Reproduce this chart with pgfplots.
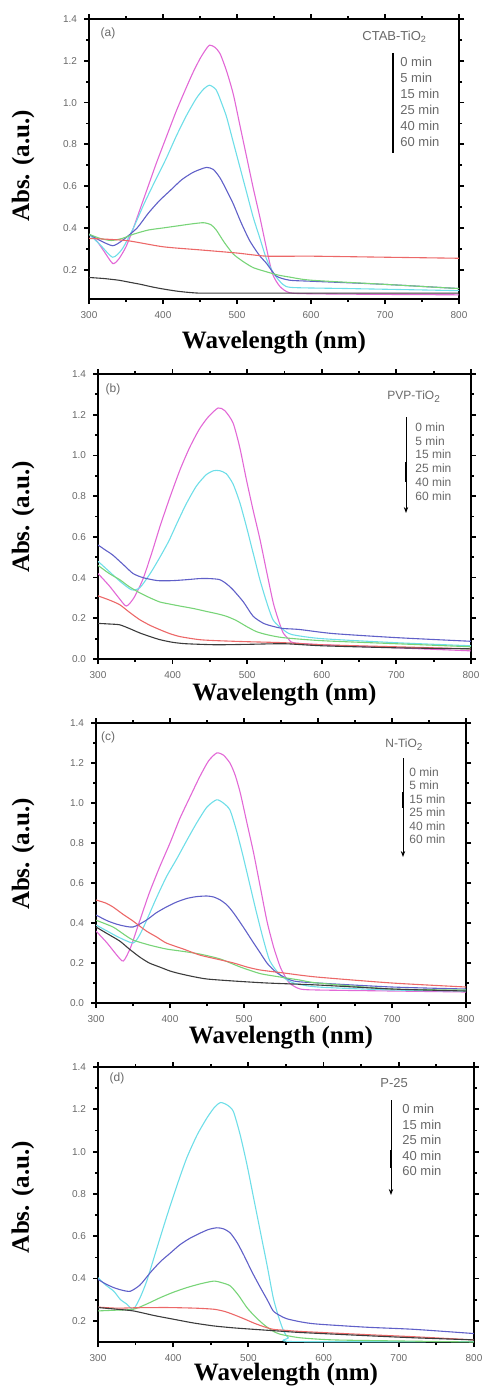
\documentclass[border=0pt]{standalone}
\usepackage{pgfplots}
\pgfplotsset{compat=1.18}
\usepackage{fontspec}
\setmainfont{Liberation Serif}
\newfontfamily\arial{Liberation Sans}
\usetikzlibrary{arrows.meta}

\definecolor{cMag}{RGB}{226,104,214}
\definecolor{cCya}{RGB}{110,222,232}
\definecolor{cBlu}{RGB}{96,96,200}
\definecolor{cGre}{RGB}{120,212,120}
\definecolor{cRed}{RGB}{236,104,104}
\definecolor{cBlk}{RGB}{60,60,60}
\definecolor{txtgray}{RGB}{105,105,105}

\pgfplotsset{
  uvpanel/.style={
    scale only axis,
    anchor=south west,
    xmin=300, xmax=800,
    xtick={300,400,...,800},
    minor x tick num=1,
    ytick={0,0.2,...,1.4},
    minor y tick num=1,
    tick align=outside,
    major tick length=2.5pt,
    minor tick length=1.5pt,
    every tick/.style={black, line width=0.9pt},
    axis line style={line width=1pt},
    tick label style={font=\arial\fontsize{5}{5}\selectfont, text=txtgray},
    /pgf/number format/assume math mode=true,
    yticklabel style={/pgf/number format/.cd, fixed, fixed zerofill, precision=1},
    xticklabel style={/pgf/number format/.cd, fixed, set thousands separator={}},
    xlabel={Wavelength (nm)},
    ylabel={Abs. (a.u.)},
    label style={font=\fontsize{12.5}{14}\selectfont\bfseries},
    xlabel style={anchor=center},
    ylabel style={anchor=center, rotate=0},
    every axis plot/.append style={line width=0.55pt, smooth, tension=0.4},
  },
}

\begin{document}
\begin{tikzpicture}
\path[use as bounding box] (0pt,0pt) rectangle (241pt,-693pt);

% (a) CTAB-TiO2
\begin{axis}[uvpanel,
  at={(44.5pt,-149.5pt)}, width=185pt, height=140pt,
  ymin=0.06, ymax=1.4, ytick={0.2,0.4,...,1.4},
  xlabel style={at={(axis description cs:0.5,-0.154)}},
  ylabel style={at={(axis description cs:-0.178,0.475)}},
]
\addplot[cMag] coordinates {(300,0.37) (310,0.34) (320,0.29) (332,0.23) (340,0.25) (350,0.31) (359,0.39) (370,0.50) (380,0.60) (391,0.71) (405,0.84) (418,0.96) (430,1.06) (440,1.14) (450,1.21) (458,1.255) (463,1.275) (470,1.265) (477,1.235) (486,1.15) (495,1.04) (504,0.89) (513,0.74) (522,0.59) (531,0.45) (540,0.30) (548,0.18) (558,0.12) (571,0.09) (600,0.085) (700,0.082) (800,0.08)};
\addplot[cCya] coordinates {(300,0.37) (315,0.32) (332,0.26) (345,0.30) (360,0.40) (375,0.52) (390,0.63) (404,0.73) (418,0.84) (432,0.94) (445,1.02) (455,1.065) (463,1.083) (472,1.06) (480,0.99) (486,0.93) (495,0.81) (504,0.69) (513,0.57) (522,0.45) (531,0.35) (540,0.25) (550,0.18) (562,0.13) (575,0.115) (650,0.11) (800,0.10)};
\addplot[cBlu] coordinates {(300,0.37) (315,0.34) (332,0.315) (345,0.34) (365,0.40) (380,0.47) (395,0.53) (410,0.58) (425,0.63) (440,0.665) (450,0.68) (459,0.69) (468,0.68) (477,0.64) (486,0.58) (495,0.515) (505,0.43) (517,0.34) (530,0.27) (540,0.23) (553,0.17) (571,0.15) (600,0.145) (700,0.13) (800,0.11)};
\addplot[cGre] coordinates {(300,0.37) (315,0.35) (330,0.34) (345,0.35) (360,0.37) (380,0.39) (400,0.40) (420,0.41) (440,0.42) (455,0.425) (465,0.415) (472,0.39) (483,0.33) (495,0.275) (508,0.24) (522,0.21) (540,0.19) (555,0.175) (571,0.165) (600,0.15) (700,0.13) (800,0.11)};
\addplot[cRed] coordinates {(300,0.35) (350,0.34) (400,0.31) (450,0.295) (500,0.28) (540,0.265) (600,0.265) (700,0.26) (800,0.255)};
\addplot[cBlk] coordinates {(300,0.163) (320,0.158) (340,0.15) (355,0.14) (370,0.13) (385,0.118) (400,0.108) (420,0.097) (440,0.09) (460,0.088) (600,0.088) (800,0.088)};
\end{axis}

% (b) PVP-TiO2
\begin{axis}[uvpanel,
  at={(49pt,-329.5pt)}, width=186.5pt, height=142.5pt,
  ymin=0, ymax=1.4,
  xlabel style={at={(axis description cs:0.5,-0.126)}},
  ylabel style={at={(axis description cs:-0.201,0.498)}},
]
\addplot[cMag] coordinates {(300,0.42) (315,0.36) (328,0.30) (338,0.26) (348,0.30) (360,0.39) (372,0.52) (383,0.65) (396,0.79) (410,0.93) (423,1.04) (436,1.13) (448,1.19) (461,1.233) (470,1.22) (481,1.16) (490,1.04) (499,0.88) (508,0.73) (517,0.59) (526,0.43) (535,0.275) (542,0.19) (548,0.13) (555,0.10) (562,0.08) (600,0.07) (700,0.055) (800,0.04)};
\addplot[cCya] coordinates {(300,0.48) (315,0.43) (330,0.38) (345,0.34) (356,0.35) (370,0.42) (383,0.50) (395,0.58) (405,0.66) (418,0.76) (432,0.85) (445,0.905) (455,0.925) (463,0.925) (472,0.91) (481,0.86) (490,0.77) (499,0.65) (508,0.52) (517,0.39) (526,0.28) (535,0.19) (548,0.145) (560,0.12) (600,0.10) (700,0.08) (800,0.065)};
\addplot[cBlu] coordinates {(300,0.56) (310,0.535) (320,0.51) (335,0.46) (347,0.42) (360,0.40) (380,0.385) (400,0.385) (420,0.39) (436,0.395) (450,0.395) (463,0.39) (472,0.37) (481,0.34) (495,0.28) (508,0.21) (522,0.175) (535,0.16) (548,0.15) (570,0.145) (615,0.125) (700,0.105) (800,0.087)};
\addplot[cGre] coordinates {(300,0.46) (315,0.42) (329,0.39) (342,0.355) (356,0.325) (370,0.30) (383,0.28) (396,0.27) (410,0.26) (428,0.248) (445,0.234) (460,0.222) (472,0.21) (485,0.19) (499,0.16) (512,0.135) (526,0.12) (548,0.105) (600,0.09) (700,0.075) (800,0.06)};
\addplot[cRed] coordinates {(300,0.31) (315,0.29) (329,0.267) (342,0.23) (356,0.193) (370,0.165) (383,0.144) (396,0.125) (410,0.11) (436,0.095) (460,0.09) (500,0.085) (550,0.08) (600,0.07) (700,0.06) (800,0.05)};
\addplot[cBlk] coordinates {(300,0.175) (315,0.172) (329,0.168) (342,0.15) (356,0.128) (370,0.11) (383,0.095) (400,0.082) (418,0.075) (458,0.07) (500,0.072) (550,0.075) (600,0.065) (700,0.055) (800,0.05)};
\end{axis}

% (c) N-TiO2
\begin{axis}[uvpanel,
  at={(48pt,-501.5pt)}, width=185pt, height=140pt,
  ymin=0, ymax=1.4,
  xlabel style={at={(axis description cs:0.5,-0.125)}},
  ylabel style={at={(axis description cs:-0.197,0.532)}},
]
\addplot[cMag] coordinates {(300,0.36) (315,0.30) (328,0.24) (337,0.21) (347,0.28) (359,0.41) (372,0.55) (386,0.68) (400,0.80) (413,0.92) (427,1.03) (440,1.13) (452,1.21) (463,1.25) (472,1.24) (481,1.20) (488,1.14) (495,1.05) (504,0.90) (513,0.75) (522,0.58) (531,0.41) (540,0.28) (549,0.18) (556,0.13) (562,0.097) (576,0.07) (600,0.065) (700,0.06) (800,0.055)};
\addplot[cCya] coordinates {(300,0.39) (315,0.36) (330,0.33) (350,0.30) (359,0.34) (368,0.41) (381,0.52) (395,0.63) (409,0.72) (423,0.815) (436,0.90) (450,0.98) (463,1.016) (472,1.00) (481,0.965) (490,0.86) (499,0.73) (508,0.59) (517,0.45) (526,0.32) (535,0.21) (549,0.14) (567,0.10) (600,0.08) (700,0.065) (800,0.06)};
\addplot[cBlu] coordinates {(300,0.44) (316,0.41) (332,0.39) (350,0.38) (368,0.414) (381,0.45) (395,0.48) (409,0.505) (423,0.523) (436,0.532) (450,0.535) (459,0.53) (468,0.515) (477,0.49) (486,0.45) (499,0.38) (513,0.30) (522,0.25) (531,0.20) (540,0.165) (549,0.14) (567,0.11) (600,0.10) (700,0.08) (800,0.07)};
\addplot[cGre] coordinates {(300,0.414) (323,0.38) (337,0.345) (350,0.315) (372,0.29) (395,0.27) (418,0.258) (440,0.245) (468,0.22) (495,0.18) (522,0.147) (549,0.13) (575,0.115) (600,0.10) (700,0.07) (800,0.065)};
\addplot[cRed] coordinates {(300,0.515) (313,0.50) (323,0.48) (336,0.445) (350,0.41) (368,0.36) (382,0.33) (395,0.30) (418,0.27) (440,0.24) (463,0.22) (486,0.20) (504,0.18) (522,0.165) (554,0.15) (598,0.13) (700,0.10) (800,0.08)};
\addplot[cBlk] coordinates {(300,0.38) (316,0.345) (332,0.31) (345,0.27) (359,0.23) (372,0.20) (386,0.18) (400,0.16) (413,0.147) (430,0.133) (450,0.12) (486,0.11) (531,0.10) (600,0.09) (700,0.07) (800,0.06)};
\end{axis}

% (d) P-25
\begin{axis}[uvpanel,
  at={(49pt,-671pt)}, width=188pt, height=137.5pt,
  ymin=0.1, ymax=1.4, ytick={0.2,0.4,...,1.4},
  xlabel style={at={(axis description cs:0.5,-0.12)}},
  ylabel style={at={(axis description cs:-0.2,0.527)}},
]
\addplot[cCya] coordinates {(300,0.404) (310,0.37) (321,0.34) (330,0.30) (338,0.28) (347,0.255) (356,0.31) (365,0.39) (378,0.54) (392,0.70) (405,0.84) (418,0.97) (432,1.08) (445,1.16) (455,1.21) (463,1.232) (472,1.22) (480,1.19) (489,1.08) (498,0.94) (507,0.78) (516,0.62) (525,0.46) (533,0.31) (540,0.22) (547,0.15) (553,0.12) (560,0.102) (800,0.102)};
\addplot[cBlu] coordinates {(300,0.396) (310,0.375) (321,0.357) (332,0.345) (343,0.34) (356,0.37) (370,0.43) (383,0.48) (396,0.52) (409,0.56) (422,0.59) (436,0.615) (447,0.632) (458,0.64) (467,0.635) (476,0.615) (485,0.57) (494,0.51) (505,0.43) (516,0.357) (525,0.30) (533,0.247) (542,0.225) (551,0.21) (570,0.195) (591,0.185) (657,0.17) (720,0.16) (800,0.14)};
\addplot[cGre] coordinates {(300,0.247) (320,0.25) (347,0.255) (365,0.28) (383,0.31) (400,0.335) (418,0.357) (436,0.375) (454,0.388) (465,0.38) (476,0.365) (487,0.32) (498,0.263) (509,0.22) (520,0.184) (531,0.155) (542,0.137) (569,0.12) (613,0.11) (700,0.105) (800,0.10)};
\addplot[cRed] coordinates {(300,0.265) (325,0.26) (350,0.262) (392,0.263) (430,0.26) (454,0.255) (468,0.245) (480,0.23) (494,0.21) (507,0.19) (520,0.173) (533,0.16) (550,0.155) (569,0.15) (657,0.135) (720,0.125) (800,0.11)};
\addplot[cBlk] coordinates {(300,0.263) (325,0.255) (347,0.247) (375,0.225) (400,0.208) (427,0.19) (454,0.176) (480,0.167) (507,0.16) (540,0.152) (569,0.145) (657,0.13) (720,0.12) (800,0.11)};
\end{axis}

% panel tags and time annotations (pixel units of the reference)
\begin{scope}[x=0.5pt, y=-0.5pt, every node/.style={text=txtgray, inner sep=0pt}]
\node[font=\arial\fontsize{6}{6}\selectfont] at (108,33) {(a)};
\node[font=\arial\fontsize{6}{6}\selectfont] at (113,389) {(b)};
\node[font=\arial\fontsize{6}{6}\selectfont] at (108,737) {(c)};
\node[font=\arial\fontsize{6}{6}\selectfont] at (117,1078) {(d)};

\node[anchor=west, font=\arial\fontsize{6.5}{6.5}\selectfont] at (362,37) {CTAB-TiO\textsubscript{2}};
\draw[black, line width=1pt] (393,53) -- (393,153);
\foreach \t [count=\i from 0] in {0,5,15,25,40,60}
  \node[anchor=west, font=\arial\fontsize{6.5}{6.5}\selectfont] at (400,62+16*\i) {\t\ min};

\node[anchor=west, font=\arial\fontsize{6}{6}\selectfont] at (387,397) {PVP-TiO\textsubscript{2}};
\draw[black, line width=0.4pt, -{Stealth[length=3pt,width=2.2pt]}] (406,417) -- (406,513);
\draw[black, line width=1pt] (406,462) -- (406,482);
\foreach \t [count=\i from 0] in {0,5,15,25,40,60}
  \node[anchor=west, font=\arial\fontsize{6}{6}\selectfont] at (415,427+13.8*\i) {\t\ min};

\node[anchor=west, font=\arial\fontsize{6}{6}\selectfont] at (385,745) {N-TiO\textsubscript{2}};
\draw[black, line width=0.4pt, -{Stealth[length=3pt,width=2.2pt]}] (403,758) -- (403,857);
\draw[black, line width=1pt] (403,792) -- (403,808);
\foreach \t [count=\i from 0] in {0,5,15,25,40,60}
  \node[anchor=west, font=\arial\fontsize{6}{6}\selectfont] at (409,772+13.5*\i) {\t\ min};

\node[anchor=west, font=\arial\fontsize{6.5}{6.5}\selectfont] at (380,1083) {P-25};
\draw[black, line width=0.4pt, -{Stealth[length=3pt,width=2.2pt]}] (391,1100) -- (391,1195);
\draw[black, line width=1pt] (391,1150) -- (391,1168);
\foreach \t [count=\i from 0] in {0,15,25,40,60}
  \node[anchor=west, font=\arial\fontsize{6.5}{6.5}\selectfont] at (402,1109+15.5*\i) {\t\ min};
\end{scope}
\end{tikzpicture}
\end{document}
